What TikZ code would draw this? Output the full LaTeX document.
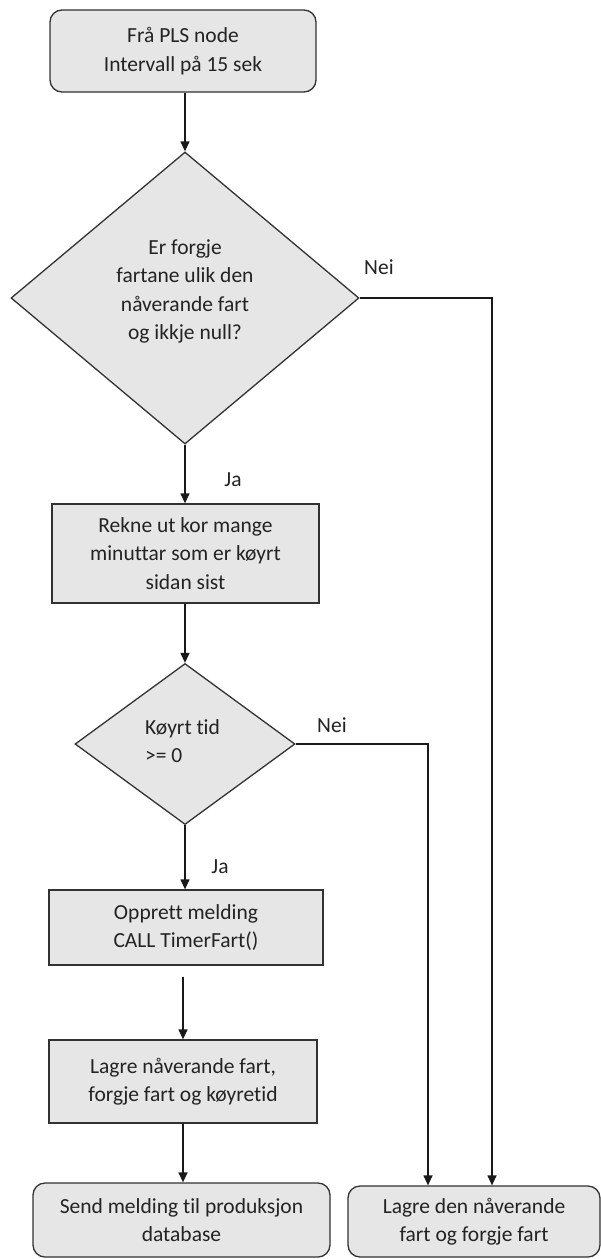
\documentclass[tikz,border=0pt]{standalone}
\usepackage{fontspec}
\setmainfont{Carlito}[Ligatures={NoCommon,NoRare}]
\usetikzlibrary{shapes.geometric,arrows.meta}
\definecolor{boxfill}{RGB}{230,230,230}
\definecolor{edge}{RGB}{50,50,50}
\definecolor{ink}{RGB}{35,35,35}
\begin{document}
\begin{tikzpicture}[x=1pt,y=-1pt,
  every node/.style={font=\fontsize{21.5}{28.5}\selectfont, text=ink},
  proc/.style={draw=edge, line width=1.3pt, fill=boxfill, rectangle, inner sep=0pt, align=center},
  term/.style={proc, rounded corners=12pt},
  decide/.style={draw=edge, line width=1.3pt, fill=boxfill, diamond, inner sep=0pt},
  flow/.style={draw=black!90, line width=1.3pt, -{Triangle[length=10pt,width=9pt]}},
  tag/.style={inner sep=0pt}]
\useasboundingbox (0,0) rectangle (601,1259);

% process steps
\node[term, minimum width=266pt, minimum height=82pt] (start) at (183,51)
  {Frå PLS node\\Intervall på 15 sek};
\node[decide, minimum width=348pt, minimum height=292pt] (d1) at (185,298) {};
\node[tag, align=center] (d1t) at (185,291.5)
  {Er forgje\\fartane ulik den\\nåverande fart\\og ikkje null?};
\node[proc, minimum width=267pt, minimum height=99pt] (calc) at (185.5,553.5)
  {Rekne ut kor mange\\minuttar som er køyrt\\sidan sist};
\node[decide, minimum width=220pt, minimum height=161pt] (d2) at (185,744) {};
\node[tag, align=left, anchor=west, font=\fontsize{21.5}{28}\selectfont] (d2t) at (145,741)
  {Køyrt tid\\>= 0};
\node[proc, minimum width=274pt, minimum height=75pt] (msg) at (186,927.5)
  {Opprett melding\\CALL TimerFart()};
\node[proc, minimum width=268pt, minimum height=83pt] (store) at (183,1081.5)
  {Lagre nåverande fart,\\forgje fart og køyretid};
\node[term, minimum width=297pt, minimum height=74pt] (send) at (181.5,1220)
  {Send melding til produksjon\\database};
\node[term, minimum width=252pt, minimum height=71pt] (keep) at (474,1221.5)
  {Lagre den nåverande\\fart og forgje fart};

% main flow
\draw[flow] (d1.north |- start.south) -- (d1.north);
\draw[flow] (d1.south) -- (d1.south |- calc.north);
\draw[flow] (d2.north |- calc.south) -- (d2.north);
\draw[flow] (d2.south) -- (d2.south |- msg.north);
\draw[flow, shorten <=11pt] (store.north |- msg.south) -- (store.north);
\draw[flow] (store.south) -- (store.south |- send.north);

% "Nei" branches
\coordinate (r1) at (492,298);
\coordinate (r2) at (428,744);
\draw[flow] (d1.east) -- (r1) -- (r1 |- keep.north);
\draw[flow] (d2.east) -- (r2) -- (r2 |- keep.north);

% branch labels
\node[tag] (nei1) at (379,267) {Nei};
\node[tag] (ja1) at (233,480) {Ja};
\node[tag] (nei2) at (332,725) {Nei};
\node[tag] (ja2) at (220,867) {Ja};
\end{tikzpicture}
\end{document}
